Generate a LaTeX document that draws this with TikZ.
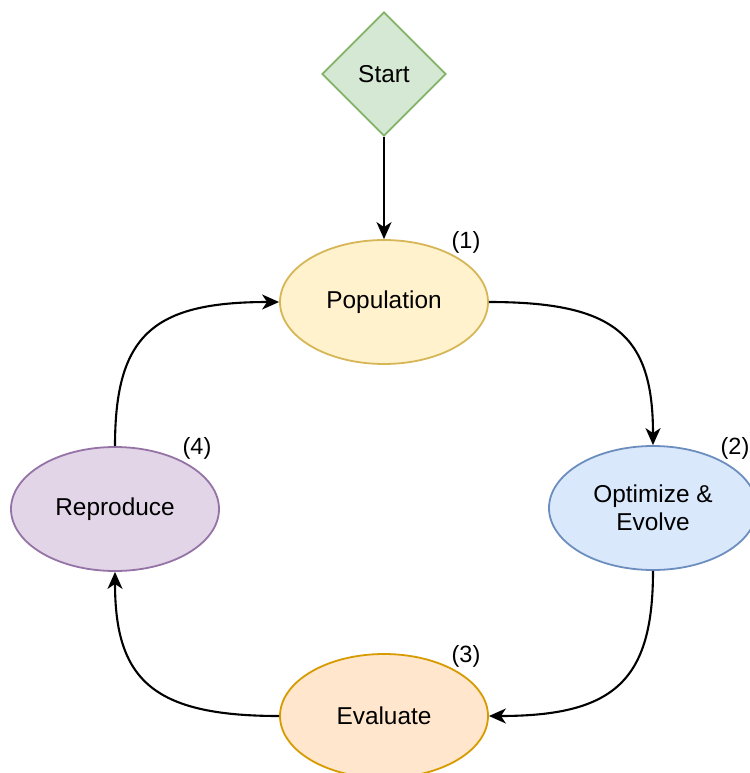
\documentclass[tikz,border=0pt]{standalone}
\usepackage{fontspec}
\setmainfont{Liberation Sans}
\usetikzlibrary{shapes.geometric,arrows.meta}
\definecolor{startfill}{HTML}{D5E8D4}\definecolor{startdraw}{HTML}{82B366}
\definecolor{popfill}{HTML}{FFF2CC}\definecolor{popdraw}{HTML}{D6B656}
\definecolor{optfill}{HTML}{DAE8FC}\definecolor{optdraw}{HTML}{6C8EBF}
\definecolor{evfill}{HTML}{FFE6CC}\definecolor{evdraw}{HTML}{D79B00}
\definecolor{repfill}{HTML}{E1D5E7}\definecolor{repdraw}{HTML}{9673A6}
\begin{document}
\begin{tikzpicture}[x=1pt,y=-1pt,
  txt/.style={font=\fontsize{24.4}{28}\selectfont},
  ell/.style={ellipse,draw,line width=1.8pt,minimum width=208pt,minimum height=124pt,inner sep=0pt,align=center,txt},
  lbl/.style={font=\fontsize{23.5}{26}\selectfont,inner sep=0pt},
  conn/.style={draw=black,line width=2.1pt,-{Stealth[length=17pt,width=15pt,inset=5pt]}}]
\useasboundingbox (0,0) rectangle (749,773);
\node[diamond,draw=startdraw,fill=startfill,line width=1.8pt,minimum width=124pt,minimum height=124pt,inner sep=0pt,txt] (start) at (384,74) {Start};
\node[ell,draw=popdraw,fill=popfill] (pop) at (384,302) {Population};
\node[ell,draw=optdraw,fill=optfill] (opt) at (653,508) {Optimize \&\\Evolve};
\node[ell,draw=evdraw,fill=evfill] (ev) at (384,716) {Evaluate};
\node[ell,draw=repdraw,fill=repfill] (rep) at (115,509) {Reproduce};
\node[lbl] (l1) at (466,242) {(1)};
\node[lbl] (l2) at (735,448) {(2)};
\node[lbl] (l3) at (466,656) {(3)};
\node[lbl] (l4) at (197,448) {(4)};
\draw[conn] (start.south) -- (pop.north);
\draw[conn] (pop.east) .. controls (615,302) and (653,335) .. (opt.north);
\draw[conn] (opt.south) .. controls (653,680) and (615,716) .. (ev.east);
\draw[conn] (ev.west) .. controls (153,716) and (115,680) .. (rep.south);
\draw[conn] (rep.north) .. controls (115,335) and (153,302) .. (pop.west);
\end{tikzpicture}
\end{document}
